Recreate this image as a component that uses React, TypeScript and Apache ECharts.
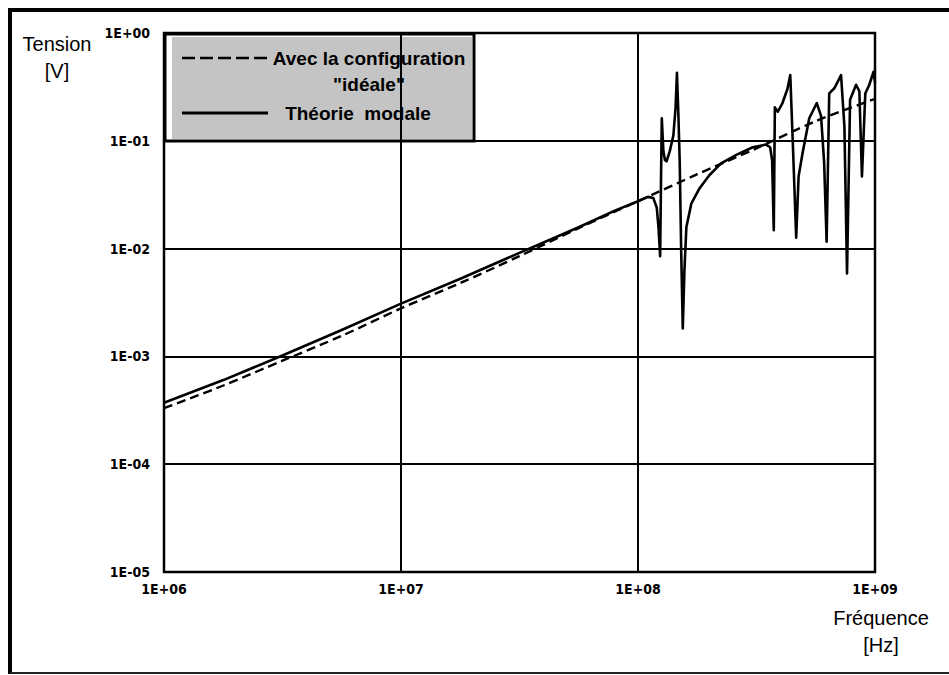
import React, { useEffect, useRef } from "react";
import * as echarts from "echarts";

// Frequency axis [Hz] and voltage [V] values
const FREQ_IDEAL = [1.0e6, 1.78e6, 3.16e6, 5.62e6, 1.0e7, 1.78e7, 3.16e7, 5.62e7, 1.0e8, 1.78e8, 3.16e8, 5.62e8, 1.0e9];
const V_IDEAL = [3.31e-4, 5.37e-4, 9.12e-4, 1.55e-3, 2.79e-3, 4.79e-3, 8.51e-3, 1.55e-2, 2.75e-2, 4.9e-2, 8.51e-2, 0.152, 0.245];

const FREQ_MODAL = [
  1.0e6, 1.78e6, 3.16e6, 5.62e6, 1.0e7, 1.78e7, 3.16e7, 5.62e7, 7.94e7, 1.0e8,
  1.10e8, 1.16e8, 1.20e8, 1.22e8, 1.24e8, 1.25e8, 1.26e8, 1.28e8, 1.30e8, 1.32e8,
  1.36e8, 1.41e8, 1.44e8, 1.46e8, 1.48e8, 1.50e8, 1.52e8, 1.545e8, 1.57e8, 1.60e8,
  1.68e8, 1.82e8, 2.0e8, 2.24e8, 2.60e8, 3.05e8, 3.47e8, 3.61e8, 3.68e8, 3.74e8,
  3.78e8, 3.89e8, 4.07e8, 4.27e8, 4.39e8, 4.50e8, 4.65e8, 4.76e8, 4.95e8, 5.28e8,
  5.68e8, 5.92e8, 6.10e8, 6.25e8, 6.41e8, 6.75e8, 7.19e8, 7.43e8, 7.62e8, 7.85e8,
  8.32e8, 8.59e8, 8.81e8, 9.10e8, 9.46e8, 9.86e8, 1.0e9,
];
const V_MODAL = [
  3.72e-4, 6.03e-4, 1.02e-3, 1.76e-3, 3.09e-3, 5.25e-3, 9.12e-3, 1.58e-2, 2.24e-2, 2.75e-2,
  3.02e-2, 2.95e-2, 2.4e-2, 1.58e-2, 8.51e-3, 3.98e-2, 0.162, 7.94e-2, 6.61e-2, 6.46e-2,
  7.94e-2, 0.112, 0.2, 0.427, 0.178, 6.31e-2, 1.05e-2, 1.82e-3, 6.31e-3, 1.58e-2,
  2.63e-2, 3.63e-2, 4.79e-2, 6.17e-2, 7.41e-2, 8.71e-2, 9.23e-2, 8.71e-2, 6.61e-2, 1.48e-2,
  0.204, 0.186, 0.224, 0.302, 0.407, 9.55e-2, 1.26e-2, 4.68e-2, 7.76e-2, 0.162,
  0.224, 0.17, 6.31e-2, 1.16e-2, 0.275, 0.309, 0.407, 0.135, 5.89e-3, 0.24,
  0.331, 0.288, 4.68e-2, 0.275, 0.331, 0.437, 0.347,
];

const X_RANGE = [1e6, 1e9];
const Y_RANGE = [1e-5, 1];

const SERIES_NAMES = ['Avec la configuration "idéale"', "Théorie modale"];
const Y_TITLE = "Tension\n[V]";
const X_TITLE = "Fréquence\n[Hz]";

const TICK_FONT = '"DejaVu Sans Condensed", "Liberation Sans Narrow", "Arial Narrow", sans-serif';
const TEXT_FONT = '"Liberation Sans", Arial, Helvetica, sans-serif';

function fmtExp(v: number): string {
  const e = Math.round(Math.log10(v));
  const s = String(Math.abs(e)).padStart(2, "0");
  return "1E" + (e >= 0 ? "+" : "-") + s;
}

export default function App() {
  const ref = useRef<HTMLDivElement>(null);

  useEffect(() => {
    if (!ref.current) return;
    const chart = echarts.init(ref.current, undefined, { renderer: "svg" });

    const ideal = FREQ_IDEAL.map((f, i) => [f, V_IDEAL[i]]);
    const modal = FREQ_MODAL.map((f, i) => [f, V_MODAL[i]]);

    chart.setOption({
      animation: false,
      backgroundColor: "#ffffff",
      grid: {
        left: 164,
        top: 33,
        width: 711,
        height: 539,
        show: true,
        borderColor: "#000",
        borderWidth: 2.5,
        backgroundColor: "transparent",
      },
      xAxis: {
        type: "log",
        logBase: 10,
        min: X_RANGE[0],
        max: X_RANGE[1],
        axisLine: { show: false },
        axisTick: { show: false },
        splitLine: { show: true, lineStyle: { color: "#000", width: 2 } },
        axisLabel: {
          formatter: (v: number) => fmtExp(v),
          color: "#000",
          fontFamily: TICK_FONT,
          fontWeight: "bold",
          fontSize: 14,
          margin: 10,
        },
      },
      yAxis: {
        type: "log",
        logBase: 10,
        min: Y_RANGE[0],
        max: Y_RANGE[1],
        axisLine: { show: false },
        axisTick: { show: false },
        splitLine: { show: true, lineStyle: { color: "#000", width: 2 } },
        axisLabel: {
          formatter: (v: number) => fmtExp(v),
          color: "#000",
          fontFamily: TICK_FONT,
          fontWeight: "bold",
          fontSize: 14,
          margin: 14,
        },
      },
      series: [
        {
          name: SERIES_NAMES[0],
          type: "line",
          data: ideal,
          showSymbol: false,
          symbol: "none",
          smooth: 0.3,
          lineStyle: { color: "#000", width: 2.4, type: [9, 5] },
          z: 2,
        },
        {
          name: SERIES_NAMES[1],
          type: "line",
          data: modal,
          showSymbol: false,
          symbol: "none",
          lineStyle: { color: "#000", width: 2.6, join: "round" },
          z: 3,
        },
      ],
      graphic: [
        // outer frame
        { type: "line", shape: { x1: 10, y1: 10, x2: 949, y2: 10 }, style: { stroke: "#000", lineWidth: 4 } },
        { type: "line", shape: { x1: 10, y1: 8, x2: 10, y2: 674 }, style: { stroke: "#000", lineWidth: 4 } },
        { type: "line", shape: { x1: 10, y1: 673, x2: 949, y2: 673 }, style: { stroke: "#222", lineWidth: 2 } },
        // axis titles
        {
          type: "text",
          x: 57,
          y: 30,
          style: { text: Y_TITLE, align: "center", verticalAlign: "top", font: `20px ${TEXT_FONT}`, lineHeight: 27, fill: "#000" },
        },
        {
          type: "text",
          x: 881,
          y: 604,
          style: { text: X_TITLE, align: "center", verticalAlign: "top", font: `20px ${TEXT_FONT}`, lineHeight: 27, fill: "#000" },
        },
        // legend box
        {
          type: "group",
          z: 100,
          children: [
            { type: "rect", shape: { x: 165, y: 34, width: 309, height: 107 }, style: { fill: "#fff", stroke: "#000", lineWidth: 3 } },
            { type: "rect", shape: { x: 172, y: 37, width: 300, height: 102 }, style: { fill: "#c4c4c4" } },
            { type: "line", shape: { x1: 182, y1: 58, x2: 268, y2: 58 }, style: { stroke: "#000", lineWidth: 2.4, lineDash: [13, 5] } },
            { type: "line", shape: { x1: 182, y1: 113, x2: 268, y2: 113 }, style: { stroke: "#000", lineWidth: 2.8 } },
            {
              type: "text",
              x: 369,
              y: 45,
              style: {
                text: 'Avec la configuration\n"idéale"',
                align: "center",
                verticalAlign: "top",
                font: `bold 19px ${TEXT_FONT}`,
                lineHeight: 26,
                fill: "#000",
              },
            },
            {
              type: "text",
              x: 358,
              y: 113,
              style: {
                text: "Théorie  modale",
                align: "center",
                verticalAlign: "middle",
                font: `bold 19px ${TEXT_FONT}`,
                fill: "#000",
              },
            },
          ],
        },
      ],
    });

    return () => chart.dispose();
  }, []);

  return <div ref={ref} style={{ position: "fixed", left: 0, top: 0, width: 949, height: 675 }} />;
}
